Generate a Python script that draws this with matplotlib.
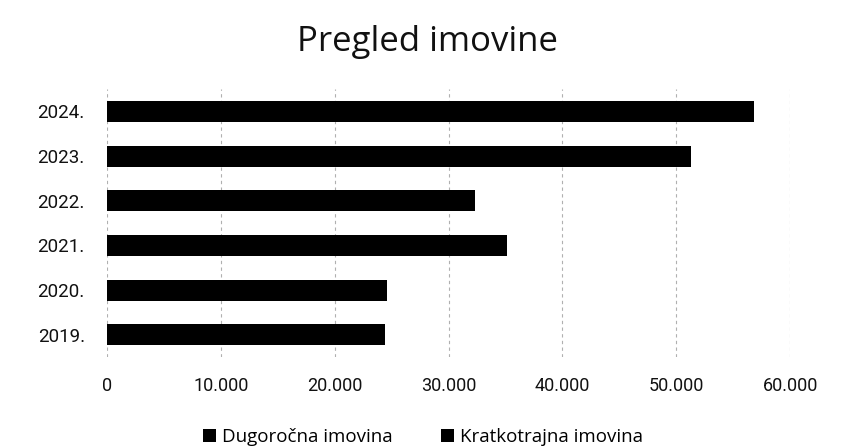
import matplotlib.pyplot as plt
from matplotlib.ticker import FuncFormatter

# years, bottom to top
years = ['2019.', '2020.', '2021.', '2022.', '2023.', '2024.']
# scan is black-and-white, both series print black; only the total length is readable
dugorocna = [24400, 24600, 35100, 32300, 51300, 56800]
kratkotrajna = [0, 0, 0, 0, 0, 0]
xticks = [0, 10000, 20000, 30000, 40000, 50000, 60000]

plt.rcParams['font.family'] = ['Roboto', 'DejaVu Sans']

fig = plt.figure(figsize=(8.46, 4.48), dpi=100)
ax = fig.add_axes([0.1265, 0.203, 0.8075, 0.598])

ax.barh(years, dugorocna, height=0.47, color='black', label='Dugoročna imovina', zorder=3)
ax.barh(years, kratkotrajna, left=dugorocna, height=0.47, color='black',
        label='Kratkotrajna imovina', zorder=3)

ax.set_xlim(0, 60000)
ax.set_ylim(-0.5, 5.5)
ax.set_xticks(xticks)
ax.xaxis.set_major_formatter(FuncFormatter(lambda v, p: f'{int(v):,}'.replace(',', '.')))
ax.grid(axis='x', color='#b0b0b0', linestyle=(0, (3, 3)), linewidth=0.8, zorder=0)
for s in ax.spines.values():
    s.set_visible(False)
ax.tick_params(axis='x', length=0, pad=14, labelsize=13, colors='#111111')
ax.tick_params(axis='y', length=0, pad=16, labelsize=13.5, colors='#111111')

fig.suptitle('Pregled imovine', x=0.505, y=0.945, fontsize=25, color='#111111',
             family=['Open Sans', 'DejaVu Sans'])
fig.legend(loc='center', bbox_to_anchor=(0.5, 0.025), ncol=2, frameon=False,
           prop={'family': ['Open Sans', 'DejaVu Sans'], 'size': 13.5},
           handlelength=0.7, handleheight=0.7, handletextpad=0.3,
           columnspacing=2.6)

fig.savefig('out.png', dpi=100)
